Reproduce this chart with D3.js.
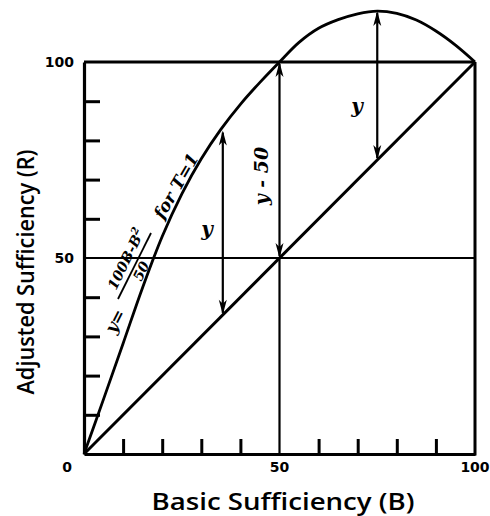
<!DOCTYPE html>
<html><head><meta charset="utf-8">
<script src="https://cdn.jsdelivr.net/npm/d3@7"></script>
<style>
html,body{margin:0;padding:0;background:#fff;}
svg{display:block;}
</style></head>
<body>
<script>
// Data
const curveB = [0,5,10,15,20,25,30,35,40,45,50,55,60,65,70,75,80,85,90,95,100];
const curveR = [0,14,28.2,42.5,55.5,66.3,75.3,82.8,89.2,94.8,100,105,108.6,110.8,112.3,113,112.4,110.7,107.9,104.3,100];
const diagB = [0,100];
const diagR = [0,100];
const arrowB = [35.5,50,75];
const arrowLow = [35.5,50,75];
const arrowHigh = [82.5,100,113];
const minorTicks = [10,20,30,40,60,70,80,90];
const tickLabels = [0,50,100];

const W=490,H=516;
const svg=d3.select("body").append("svg").attr("width",W).attr("height",H);
const x=d3.scaleLinear().domain([0,100]).range([84,475]);
const y=d3.scaleLinear().domain([0,100]).range([454,62]);
const ink="#000";

// minor ticks via axes (inward)
const yTicks=svg.append("g").attr("transform",`translate(${x(0)},0)`)
  .call(d3.axisLeft(y).tickValues(minorTicks).tickSizeInner(-16).tickSizeOuter(0).tickFormat(""));
const xTicks=svg.append("g").attr("transform",`translate(0,${y(0)})`)
  .call(d3.axisBottom(x).tickValues(minorTicks).tickSizeInner(-15).tickSizeOuter(0).tickFormat(""));
[yTicks,xTicks].forEach(g=>{
  g.selectAll(".tick line").attr("stroke",ink).attr("stroke-width",3);
  g.select(".domain").attr("stroke",ink).attr("stroke-width",3.2);
});

// frame top and right
svg.append("line").attr("x1",x(0)).attr("x2",x(100)).attr("y1",y(100)).attr("y2",y(100)).attr("stroke",ink).attr("stroke-width",3);
svg.append("line").attr("x1",x(100)).attr("x2",x(100)).attr("y1",y(0)+1.5).attr("y2",y(100)).attr("stroke",ink).attr("stroke-width",3);
// horizontal at 50
svg.append("line").attr("x1",x(0)).attr("x2",x(100)).attr("y1",y(50)).attr("y2",y(50)).attr("stroke",ink).attr("stroke-width",2);
// vertical at 50 lower part
svg.append("line").attr("x1",x(50)).attr("x2",x(50)).attr("y1",y(0)).attr("y2",y(50)).attr("stroke",ink).attr("stroke-width",2.2);

// diagonal
svg.append("line").attr("x1",x(diagB[0])).attr("y1",y(diagR[0])).attr("x2",x(diagB[1])).attr("y2",y(diagR[1]))
  .attr("stroke",ink).attr("stroke-width",3);

// curve
const pts=curveB.map((b,i)=>[b,curveR[i]]);
svg.append("path").datum(pts)
  .attr("d",d3.line().x(d=>x(d[0])).y(d=>y(d[1])).curve(d3.curveCatmullRom))
  .attr("fill","none").attr("stroke",ink).attr("stroke-width",2.8);

// arrows
function head(xp,yp,dir){ // dir -1 up, +1 down (tip at yp)
  const L=15,w=4;
  return `M${xp},${yp} L${xp-w},${yp-dir*L} L${xp},${yp-dir*(L-4)} L${xp+w},${yp-dir*L} Z`;
}
arrowB.forEach((b,i)=>{
  const xp=x(b), y1=y(arrowLow[i]), y2=y(arrowHigh[i]);
  svg.append("line").attr("x1",xp).attr("x2",xp).attr("y1",y1-2).attr("y2",y2+2).attr("stroke",ink).attr("stroke-width",2.2);
  svg.append("path").attr("d",head(xp,y2,-1)).attr("fill",ink);
  svg.append("path").attr("d",head(xp,y1,1)).attr("fill",ink);
});

// tick labels
const lblFont="'DejaVu Sans', sans-serif";
tickLabels.forEach(v=>{
  if(v===0){
    svg.append("text").attr("x",67).attr("y",467).attr("text-anchor","middle").attr("dominant-baseline","central")
      .attr("font-family",lblFont).attr("font-weight","bold").attr("font-size",14).text("0");
    return;
  }
  svg.append("text").attr("x",x(0)-10).attr("y",y(v)).attr("text-anchor","end").attr("dominant-baseline","central")
    .attr("font-family",lblFont).attr("font-weight","bold").attr("font-size",14).text(v);
  svg.append("text").attr("x",x(v)).attr("y",467).attr("text-anchor","middle").attr("dominant-baseline","central")
    .attr("font-family",lblFont).attr("font-weight","bold").attr("font-size",14).text(v);
});

// axis titles
const titleFont="'Open Sans', 'DejaVu Sans', sans-serif";
svg.append("text").attr("x",283).attr("y",510).attr("text-anchor","middle")
  .attr("font-family",titleFont).attr("font-weight",600).attr("font-size",24)
  .attr("textLength",263).attr("lengthAdjust","spacingAndGlyphs").text("Basic Sufficiency (B)");
svg.append("text").attr("transform",`translate(34,272) rotate(-90)`).attr("text-anchor","middle")
  .attr("font-family",titleFont).attr("font-weight",600).attr("font-size",24)
  .attr("textLength",245).attr("lengthAdjust","spacingAndGlyphs").text("Adjusted Sufficiency (R)");

// annotations
const itFont="'DejaVu Serif', serif";
function itext(cx,cy,rot,txt,size){
  return svg.append("text").attr("transform",`translate(${cx},${cy}) rotate(${rot})`)
    .attr("text-anchor","middle").attr("dominant-baseline","central")
    .attr("font-family",itFont).attr("font-style","italic").attr("font-weight","bold").attr("font-size",size).text(txt);
}
itext(207,229,0,"y",20);
itext(357,106,0,"y",20);
itext(261,176,-90,"y - 50",19);
// curve formula
itext(115,321,-63,"y=",17);
const num=itext(126,259,-64,"",14);
num.append("tspan").text("100B-B");
num.append("tspan").attr("dy",-5).attr("font-size",10).text("2");
svg.append("line").attr("x1",118).attr("y1",299).attr("x2",151).attr("y2",233).attr("stroke",ink).attr("stroke-width",1.8);
itext(141,271,-64,"50",14);
itext(176,186,-60,"for T=1",17);
</script>
</body></html>
